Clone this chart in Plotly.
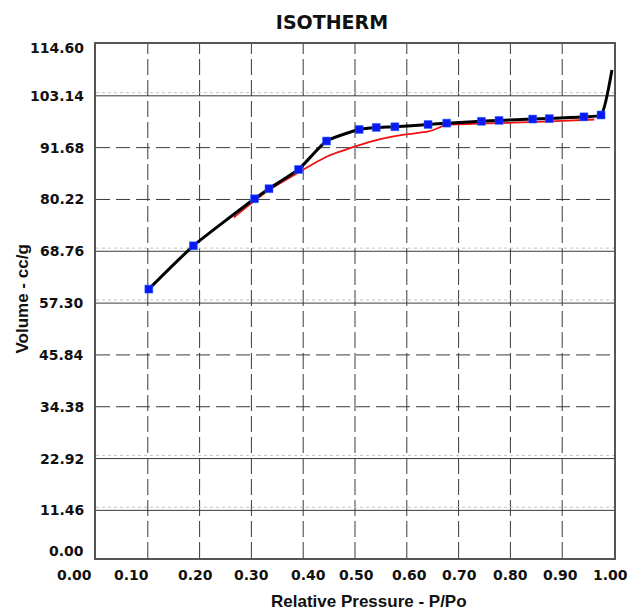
import plotly.graph_objects as go

# Adsorption branch (P/Po, volume cc/g)
ads_p = [0.102, 0.188, 0.306, 0.334, 0.391, 0.445, 0.508, 0.541, 0.577,
         0.641, 0.677, 0.744, 0.778, 0.843, 0.875, 0.942, 0.975, 0.996]
ads_v = [60.4, 69.98, 80.37, 82.6, 86.86, 93.14, 95.7, 96.15, 96.3,
         96.8, 97.1, 97.5, 97.7, 98.0, 98.1, 98.5, 98.9, 108.85]

# Desorption branch
des_p = [0.266, 0.306, 0.334, 0.391, 0.444, 0.502, 0.547, 0.598, 0.640,
         0.656, 0.675, 0.740, 0.804, 0.900, 0.962]
des_v = [76.24, 79.9, 82.3, 86.2, 89.6, 92.0, 93.5, 94.6, 95.2,
         95.8, 96.7, 97.0, 97.2, 97.6, 97.9]

# Axis labels
x_labels = ["0.00", "0.10", "0.20", "0.30", "0.40", "0.50",
            "0.60", "0.70", "0.80", "0.90", "1.00"]
y_labels = ["0.00", "11.46", "22.92", "34.38", "45.84", "57.30",
            "68.76", "80.22", "91.68", "103.14", "114.60"]
x_grid = [0.1, 0.2, 0.3, 0.4, 0.5, 0.6, 0.7, 0.8, 0.9]
y_grid = [11.46, 22.92, 34.38, 45.84, 57.30, 68.76, 80.22, 91.68, 103.14]
y_grid_solid = [11.46, 22.92, 57.30, 68.76, 103.14]

# Layout helpers: where the x labels sit (fraction of plot width) and y label nudges (px)
x_label_at = [-0.041, 0.068, 0.192, 0.301, 0.411, 0.502,
              0.606, 0.701, 0.801, 0.897, 0.994]
y_label_shift = [11, 0, 0, 0, 0, 0, 0, 0, 0, 0, -4]

W, H = 631, 612
L, R, T, B = 96, 17, 44, 54
Y_MIN, Y_MAX = 0.93, 114.6


def px_x(px):
    return (px - L) / (W - L - R)


def px_y(py):
    return (H - B - py) / (H - T - B)


def val_y(v):
    return (v - Y_MIN) / (Y_MAX - Y_MIN)


fig = go.Figure()

# Grid lines
for gx in x_grid:
    fig.add_shape(type="line", xref="x", yref="paper", x0=gx, x1=gx, y0=0, y1=1,
                  line=dict(color="#3a3a3a", width=1, dash="16px,5px"), layer="below")
for gy in y_grid:
    if gy in y_grid_solid:
        fig.add_shape(type="line", xref="paper", yref="y", x0=0, x1=1,
                      y0=gy + 0.7, y1=gy + 0.7,
                      line=dict(color="#c4c4c4", width=1, dash="dot"), layer="below")
        fig.add_shape(type="line", xref="paper", yref="y", x0=0, x1=1, y0=gy, y1=gy,
                      line=dict(color="#3a3a3a", width=1), layer="below")
    else:
        fig.add_shape(type="line", xref="paper", yref="y", x0=0, x1=1, y0=gy, y1=gy,
                      line=dict(color="#3a3a3a", width=1, dash="14px,6px"), layer="below")

# Desorption curve
fig.add_trace(go.Scatter(
    x=des_p, y=des_v, mode="lines",
    line=dict(color="#ee1111", width=1.8, shape="spline", smoothing=0.5),
    hoverinfo="x+y", showlegend=False))

# Adsorption curve
fig.add_trace(go.Scatter(
    x=ads_p, y=ads_v, mode="lines",
    line=dict(color="#000000", width=3, shape="spline", smoothing=0.5),
    hoverinfo="x+y", showlegend=False))

# Measured adsorption points
fig.add_trace(go.Scatter(
    x=ads_p[:-1], y=ads_v[:-1], mode="markers",
    marker=dict(symbol="square", size=8, color="#0a18f5",
                line=dict(color="#2a6cff", width=0.5)),
    hoverinfo="x+y", showlegend=False))

tick_font = dict(family="DejaVu Sans", size=14, color="#111111", weight="bold")
ann = []
for lab, xa in zip(x_labels, x_label_at):
    ann.append(dict(text=lab, x=xa, xref="paper", y=px_y(575), yref="paper",
                    showarrow=False, font=tick_font, xanchor="center", yanchor="middle"))
for lab, sh in zip(y_labels, y_label_shift):
    ann.append(dict(text=lab, x=px_x(86), xref="paper", y=val_y(float(lab)), yref="paper",
                    yshift=sh, showarrow=False, font=tick_font,
                    xanchor="right", yanchor="middle"))

title_font = dict(family="Liberation Sans", size=17, color="#111111", weight="bold")
ann.append(dict(text="Relative Pressure - P/Po", x=px_x(368.5), y=px_y(601),
                xref="paper", yref="paper", showarrow=False, font=title_font,
                xanchor="center", yanchor="middle"))
ann.append(dict(text="Volume - cc/g", x=px_x(21.5), y=px_y(299),
                xref="paper", yref="paper", showarrow=False, textangle=-90,
                font=title_font, xanchor="center", yanchor="middle"))

fig.update_layout(
    width=W, height=H,
    margin=dict(l=L, r=R, t=T, b=B, pad=0),
    paper_bgcolor="white", plot_bgcolor="white",
    title=dict(text="ISOTHERM", x=332 / W, xref="container", xanchor="center",
               y=1 - 22 / H, yref="container", yanchor="middle",
               font=dict(family="DejaVu Sans", size=19, color="#111111", weight="bold")),
    xaxis=dict(range=[0, 1], showgrid=False, zeroline=False, showticklabels=False,
               ticks="", showline=True, mirror=True, linecolor="#555555", linewidth=1.5,
               fixedrange=True),
    yaxis=dict(range=[Y_MIN, Y_MAX], showgrid=False, zeroline=False, showticklabels=False,
               ticks="", showline=True, mirror=True, linecolor="#555555", linewidth=1.5,
               fixedrange=True),
    annotations=ann,
    showlegend=False,
)

fig.write_html("out.html")
